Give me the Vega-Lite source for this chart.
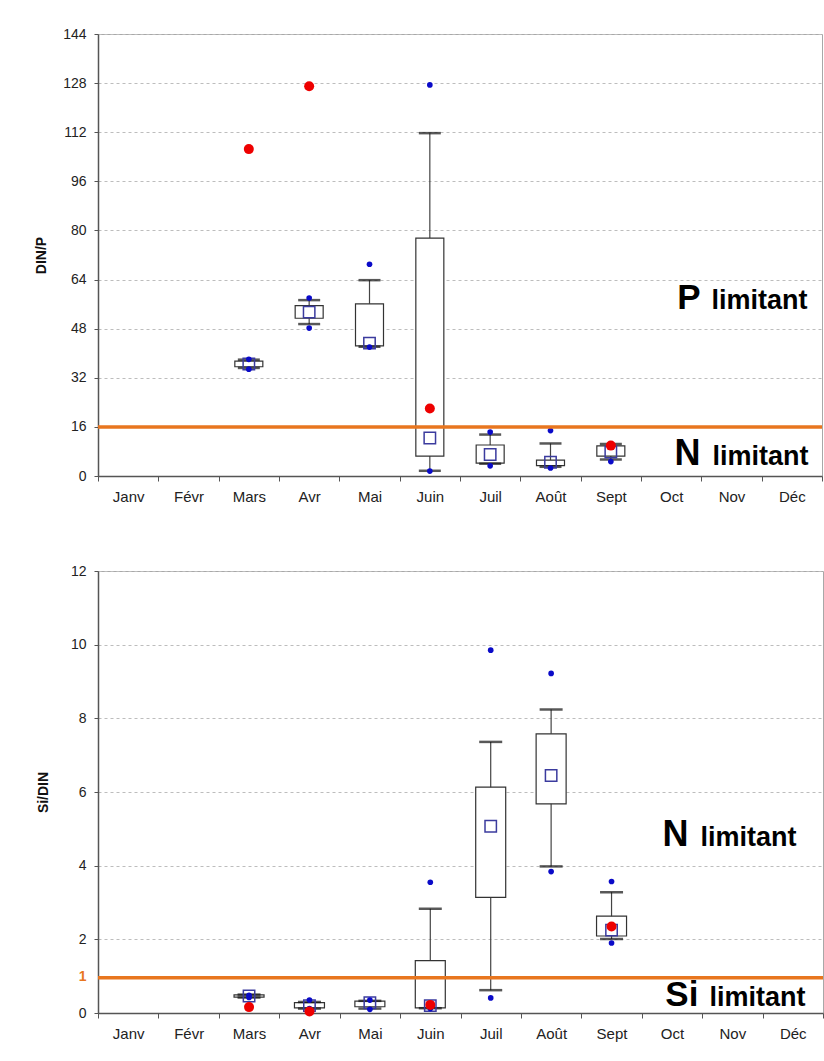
{
  "$schema": "https://vega.github.io/schema/vega-lite/v6.json",
  "background": "white",
  "padding": {"left": 34, "top": 26, "right": 0, "bottom": 0},
  "autosize": {"type": "pad"},
  "spacing": 58,
  "config": {
    "font": "Liberation Sans",
    "view": {"stroke": "#a8a8a8", "strokeWidth": 1},
    "axis": {
      "labelFont": "Liberation Sans", "labelFontSize": 14, "labelColor": "#222",
      "titleFont": "Liberation Sans", "titleFontSize": 14, "titleFontWeight": "bold", "titleColor": "#111",
      "domainColor": "#555", "domainWidth": 1.5, "tickColor": "#555", "tickSize": 4,
      "gridColor": "#bdbdbd", "gridDash": [3, 3], "gridWidth": 1
    },
    "axisX": {"labelFontSize": 15, "tickSize": 5, "labelPadding": 8, "grid": false, "labelAngle": 0, "tickBand": "extent", "title": null},
    "axisY": {"labelPadding": 8, "titlePadding": 14}
  },
  "datasets": {
    "topBox": [
      {"m": "Mars", "lo": 35.2, "q1": 35.6, "q3": 37.4, "hi": 37.9, "mean": 36.5},
      {"m": "Avr", "lo": 49.5, "q1": 51.4, "q3": 55.5, "hi": 57.3, "mean": 53.4},
      {"m": "Mai", "lo": 42.1, "q1": 42.4, "q3": 56.1, "hi": 63.8, "mean": 43.3},
      {"m": "Juin", "lo": 1.7, "q1": 6.5, "q3": 77.5, "hi": 111.7, "mean": 12.4},
      {"m": "Juil", "lo": 4.0, "q1": 4.2, "q3": 10.1, "hi": 13.5, "mean": 7.0},
      {"m": "Août", "lo": 3.0, "q1": 3.4, "q3": 5.2, "hi": 10.6, "mean": 4.5},
      {"m": "Sept", "lo": 5.4, "q1": 6.5, "q3": 9.8, "hi": 10.4, "mean": 7.8}
    ],
    "topPts": [
      {"m": "Mars", "v": 38.0, "k": "ext"}, {"m": "Mars", "v": 34.8, "k": "ext"},
      {"m": "Avr", "v": 58.0, "k": "ext"}, {"m": "Avr", "v": 48.2, "k": "ext"},
      {"m": "Mai", "v": 69.0, "k": "ext"}, {"m": "Mai", "v": 42.0, "k": "ext"},
      {"m": "Juin", "v": 127.4, "k": "ext"}, {"m": "Juin", "v": 1.6, "k": "ext"},
      {"m": "Juil", "v": 14.3, "k": "ext"}, {"m": "Juil", "v": 3.3, "k": "ext"},
      {"m": "Août", "v": 14.8, "k": "ext"}, {"m": "Août", "v": 2.6, "k": "ext"},
      {"m": "Sept", "v": 10.2, "k": "ext"}, {"m": "Sept", "v": 4.7, "k": "ext"},
      {"m": "Mars", "v": 106.5, "k": "ref"},
      {"m": "Avr", "v": 127.0, "k": "ref"},
      {"m": "Juin", "v": 22.0, "k": "ref"},
      {"m": "Sept", "v": 9.9, "k": "ref"}
    ],
    "botBox": [
      {"m": "Mars", "lo": 0.42, "q1": 0.43, "q3": 0.49, "hi": 0.5, "mean": 0.46},
      {"m": "Avr", "lo": 0.12, "q1": 0.14, "q3": 0.28, "hi": 0.3, "mean": 0.2},
      {"m": "Mai", "lo": 0.12, "q1": 0.17, "q3": 0.32, "hi": 0.33, "mean": 0.28},
      {"m": "Juin", "lo": 0.13, "q1": 0.14, "q3": 1.42, "hi": 2.83, "mean": 0.2},
      {"m": "Juil", "lo": 0.62, "q1": 3.14, "q3": 6.13, "hi": 7.36, "mean": 5.07},
      {"m": "Août", "lo": 3.98, "q1": 5.68, "q3": 7.58, "hi": 8.24, "mean": 6.45},
      {"m": "Sept", "lo": 2.01, "q1": 2.09, "q3": 2.63, "hi": 3.28, "mean": 2.25}
    ],
    "botPts": [
      {"m": "Mars", "v": 0.48, "k": "ext"}, {"m": "Mars", "v": 0.42, "k": "ext"},
      {"m": "Avr", "v": 0.35, "k": "ext"}, {"m": "Avr", "v": 0.12, "k": "ext"},
      {"m": "Mai", "v": 0.35, "k": "ext"}, {"m": "Mai", "v": 0.1, "k": "ext"},
      {"m": "Juin", "v": 3.55, "k": "ext"}, {"m": "Juin", "v": 0.12, "k": "ext"},
      {"m": "Juil", "v": 9.85, "k": "ext"}, {"m": "Juil", "v": 0.41, "k": "ext"},
      {"m": "Août", "v": 9.22, "k": "ext"}, {"m": "Août", "v": 3.84, "k": "ext"},
      {"m": "Sept", "v": 3.57, "k": "ext"}, {"m": "Sept", "v": 1.9, "k": "ext"},
      {"m": "Mars", "v": 0.16, "k": "ref"},
      {"m": "Avr", "v": 0.04, "k": "ref"},
      {"m": "Juin", "v": 0.22, "k": "ref"},
      {"m": "Sept", "v": 2.35, "k": "ref"}
    ],
    "topTxt": [
      {"m": "Nov", "v": 54.4, "big": "P", "small": "limitant"}
    ],
    "topTxt2": [
      {"m": "Nov", "v": 3.6, "big": "N", "small": "limitant"}
    ],
    "botTxt": [
      {"m": "Nov", "v": 4.54, "big": "N", "small": "limitant"}
    ],
    "botTxt2": [
      {"m": "Nov", "v": 0.2, "big": "Si", "small": "limitant"}
    ],
    "topLine": [{"v": 16}],
    "botLine": [{"v": 0.96}]
  },
  "vconcat": [
    {
      "width": 724,
      "height": 442,
      "encoding": {
        "x": {"field": "m", "type": "nominal", "scale": {"type": "band", "domain": ["Janv", "Févr", "Mars", "Avr", "Mai", "Juin", "Juil", "Août", "Sept", "Oct", "Nov", "Déc"], "paddingInner": 0, "paddingOuter": 0}}
      },
      "layer": [
        {
          "data": {"name": "topBox"},
          "mark": {"type": "rule", "color": "#444", "strokeWidth": 1.2},
          "encoding": {
            "y": {"field": "lo", "type": "quantitative", "title": "DIN/P", "scale": {"domain": [0, 144], "nice": false}, "axis": {"values": [0, 16, 32, 48, 64, 80, 96, 112, 128, 144]}},
            "y2": {"field": "hi"}
          }
        },
        {
          "data": {"name": "topBox"},
          "mark": {"type": "bar", "fill": "white", "stroke": "#333", "strokeWidth": 1.2, "size": 28},
          "encoding": {"y": {"field": "q1", "type": "quantitative"}, "y2": {"field": "q3"}}
        },
        {
          "data": {"name": "topBox"},
          "mark": {"type": "tick", "color": "#111", "thickness": 2.5, "size": 22},
          "encoding": {"y": {"field": "lo", "type": "quantitative"}}
        },
        {
          "data": {"name": "topBox"},
          "mark": {"type": "tick", "color": "#111", "thickness": 2.5, "size": 22},
          "encoding": {"y": {"field": "hi", "type": "quantitative"}}
        },
        {
          "data": {"name": "topBox"},
          "mark": {"type": "point", "shape": "square", "filled": false, "color": "#3b3b9e", "size": 130, "strokeWidth": 1.5, "opacity": 1},
          "encoding": {"y": {"field": "mean", "type": "quantitative"}}
        },
        {
          "data": {"name": "topPts"},
          "transform": [{"filter": "datum.k === 'ext'"}],
          "mark": {"type": "circle", "color": "#0a0ac8", "size": 32, "opacity": 1},
          "encoding": {"y": {"field": "v", "type": "quantitative"}}
        },
        {
          "data": {"name": "topPts"},
          "transform": [{"filter": "datum.k === 'ref'"}],
          "mark": {"type": "circle", "color": "#ee0000", "size": 100, "opacity": 1},
          "encoding": {"y": {"field": "v", "type": "quantitative"}}
        },
        {
          "data": {"name": "topLine"},
          "mark": {"type": "rule", "color": "#e8761f", "strokeWidth": 3.5},
          "encoding": {"x": null, "y": {"field": "v", "type": "quantitative"}}
        },
        {
          "data": {"name": "topTxt"},
          "mark": {"type": "text", "align": "right", "baseline": "alphabetic", "dx": -31, "fontSize": 35, "fontWeight": "bold", "color": "#000"},
          "encoding": {"y": {"field": "v", "type": "quantitative"}, "text": {"field": "big"}}
        },
        {
          "data": {"name": "topTxt"},
          "mark": {"type": "text", "align": "left", "baseline": "alphabetic", "dx": -20, "fontSize": 27, "fontWeight": "bold", "color": "#000"},
          "encoding": {"y": {"field": "v", "type": "quantitative"}, "text": {"field": "small"}}
        },
        {
          "data": {"name": "topTxt2"},
          "mark": {"type": "text", "align": "right", "baseline": "alphabetic", "dx": -31, "fontSize": 36, "fontWeight": "bold", "color": "#000"},
          "encoding": {"y": {"field": "v", "type": "quantitative"}, "text": {"field": "big"}}
        },
        {
          "data": {"name": "topTxt2"},
          "mark": {"type": "text", "align": "left", "baseline": "alphabetic", "dx": -19, "fontSize": 27, "fontWeight": "bold", "color": "#000"},
          "encoding": {"y": {"field": "v", "type": "quantitative"}, "text": {"field": "small"}}
        }
      ]
    },
    {
      "width": 725,
      "height": 442,
      "encoding": {
        "x": {"field": "m", "type": "nominal", "scale": {"type": "band", "domain": ["Janv", "Févr", "Mars", "Avr", "Mai", "Juin", "Juil", "Août", "Sept", "Oct", "Nov", "Déc"], "paddingInner": 0, "paddingOuter": 0}}
      },
      "layer": [
        {
          "data": {"name": "botBox"},
          "mark": {"type": "rule", "color": "#444", "strokeWidth": 1.2},
          "encoding": {
            "y": {"field": "lo", "type": "quantitative", "title": "Si/DIN", "scale": {"domain": [0, 12], "nice": false},
              "axis": {
                "values": [0, 1, 2, 4, 6, 8, 10, 12],
                "titlePadding": 20,
                "labelColor": {"condition": {"test": "datum.value === 1", "value": "#e8761f"}, "value": "#222"},
                "labelFontWeight": {"condition": {"test": "datum.value === 1", "value": "bold"}, "value": "normal"},
                "gridOpacity": {"condition": {"test": "datum.value === 1", "value": 0}, "value": 1},
                "tickOpacity": {"condition": {"test": "datum.value === 1", "value": 0}, "value": 1}
              }
            },
            "y2": {"field": "hi"}
          }
        },
        {
          "data": {"name": "botBox"},
          "mark": {"type": "bar", "fill": "white", "stroke": "#333", "strokeWidth": 1.2, "size": 30},
          "encoding": {"y": {"field": "q1", "type": "quantitative"}, "y2": {"field": "q3"}}
        },
        {
          "data": {"name": "botBox"},
          "mark": {"type": "tick", "color": "#111", "thickness": 2.5, "size": 23},
          "encoding": {"y": {"field": "lo", "type": "quantitative"}}
        },
        {
          "data": {"name": "botBox"},
          "mark": {"type": "tick", "color": "#111", "thickness": 2.5, "size": 23},
          "encoding": {"y": {"field": "hi", "type": "quantitative"}}
        },
        {
          "data": {"name": "botBox"},
          "mark": {"type": "point", "shape": "square", "filled": false, "color": "#3b3b9e", "size": 130, "strokeWidth": 1.5, "opacity": 1},
          "encoding": {"y": {"field": "mean", "type": "quantitative"}}
        },
        {
          "data": {"name": "botPts"},
          "transform": [{"filter": "datum.k === 'ext'"}],
          "mark": {"type": "circle", "color": "#0a0ac8", "size": 32, "opacity": 1},
          "encoding": {"y": {"field": "v", "type": "quantitative"}}
        },
        {
          "data": {"name": "botPts"},
          "transform": [{"filter": "datum.k === 'ref'"}],
          "mark": {"type": "circle", "color": "#ee0000", "size": 100, "opacity": 1},
          "encoding": {"y": {"field": "v", "type": "quantitative"}}
        },
        {
          "data": {"name": "botLine"},
          "mark": {"type": "rule", "color": "#e8761f", "strokeWidth": 3.5},
          "encoding": {"x": null, "y": {"field": "v", "type": "quantitative"}}
        },
        {
          "data": {"name": "botTxt"},
          "mark": {"type": "text", "align": "right", "baseline": "alphabetic", "dx": -44, "fontSize": 36, "fontWeight": "bold", "color": "#000"},
          "encoding": {"y": {"field": "v", "type": "quantitative"}, "text": {"field": "big"}}
        },
        {
          "data": {"name": "botTxt"},
          "mark": {"type": "text", "align": "left", "baseline": "alphabetic", "dx": -32, "fontSize": 27, "fontWeight": "bold", "color": "#000"},
          "encoding": {"y": {"field": "v", "type": "quantitative"}, "text": {"field": "small"}}
        },
        {
          "data": {"name": "botTxt2"},
          "mark": {"type": "text", "align": "right", "baseline": "alphabetic", "dx": -34, "fontSize": 35, "fontWeight": "bold", "color": "#000"},
          "encoding": {"y": {"field": "v", "type": "quantitative"}, "text": {"field": "big"}}
        },
        {
          "data": {"name": "botTxt2"},
          "mark": {"type": "text", "align": "left", "baseline": "alphabetic", "dx": -23, "fontSize": 27, "fontWeight": "bold", "color": "#000"},
          "encoding": {"y": {"field": "v", "type": "quantitative"}, "text": {"field": "small"}}
        }
      ]
    }
  ]
}
